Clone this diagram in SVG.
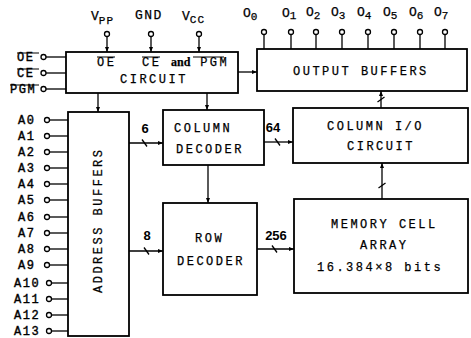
<svg xmlns="http://www.w3.org/2000/svg" width="471" height="338" viewBox="0 0 471 338">
<style>
.box{fill:#fff;stroke:#000;stroke-width:1.8}
.ln{fill:none;stroke:#000;stroke-width:1.3}
.pin{fill:#fff;stroke:#000;stroke-width:1.3}
.t{font-family:"Liberation Mono",monospace;font-size:12px;letter-spacing:2.5px;fill:#000;stroke:#000;stroke-width:0.25}
.p{font-family:"Liberation Mono",monospace;font-size:12px;letter-spacing:1.5px;fill:#000;stroke:#000;stroke-width:0.4}
.s{font-family:"Liberation Mono",monospace;font-size:13px;fill:#000;stroke:#000;stroke-width:0.25}
.n{font-family:"Liberation Sans",Arial,sans-serif;font-size:13px;fill:#000;font-weight:bold}
.ov{stroke:#000;stroke-width:1}
</style>
<defs>
<marker id="ah" markerWidth="5" markerHeight="4" refX="5" refY="2" orient="auto" markerUnits="userSpaceOnUse"><path d="M0,0 L5,2 L0,4 z" fill="#000"/></marker>
</defs>
<rect width="471" height="338" fill="#fff"/>

<g id="connectors">
  <line class="ln" x1="107" y1="36.5" x2="107" y2="52" marker-end="url(#ah)"/>
  <line class="ln" x1="151" y1="36.5" x2="151" y2="52" marker-end="url(#ah)"/>
  <line class="ln" x1="199" y1="36.5" x2="199" y2="52" marker-end="url(#ah)"/>
  <line class="ln" x1="46" y1="57" x2="66" y2="57"/>
  <line class="ln" x1="46" y1="73" x2="66" y2="73"/>
  <line class="ln" x1="46" y1="89" x2="66" y2="89"/>
  <line class="ln" x1="264" y1="34.5" x2="264" y2="49"/>
  <line class="ln" x1="291" y1="34.5" x2="291" y2="49"/>
  <line class="ln" x1="316" y1="34.5" x2="316" y2="49"/>
  <line class="ln" x1="342" y1="34.5" x2="342" y2="49"/>
  <line class="ln" x1="368" y1="34.5" x2="368" y2="49"/>
  <line class="ln" x1="394" y1="34.5" x2="394" y2="49"/>
  <line class="ln" x1="420" y1="34.5" x2="420" y2="49"/>
  <line class="ln" x1="445" y1="34.5" x2="445" y2="49"/>
  <g class="ln">
    <line x1="49.5" y1="120" x2="68" y2="120"/>
    <line x1="49.5" y1="136" x2="68" y2="136"/>
    <line x1="49.5" y1="152" x2="68" y2="152"/>
    <line x1="49.5" y1="168" x2="68" y2="168"/>
    <line x1="49.5" y1="184" x2="68" y2="184"/>
    <line x1="49.5" y1="200" x2="68" y2="200"/>
    <line x1="49.5" y1="217" x2="68" y2="217"/>
    <line x1="49.5" y1="233" x2="68" y2="233"/>
    <line x1="49.5" y1="249" x2="68" y2="249"/>
    <line x1="49.5" y1="265" x2="68" y2="265"/>
    <line x1="51.5" y1="283" x2="68" y2="283"/>
    <line x1="51.5" y1="299" x2="68" y2="299"/>
    <line x1="51.5" y1="315" x2="68" y2="315"/>
    <line x1="51.5" y1="331" x2="68" y2="331"/>
  </g>
  <line class="ln" x1="238" y1="72" x2="257" y2="72" marker-end="url(#ah)"/>
  <line class="ln" x1="98" y1="93" x2="98" y2="112" marker-end="url(#ah)"/>
  <line class="ln" x1="207" y1="93" x2="207" y2="110" marker-end="url(#ah)"/>
  <line class="ln" x1="129" y1="143" x2="163" y2="143" marker-end="url(#ah)"/>
  <line class="ln" x1="142" y1="139.5" x2="147" y2="146.5"/>
  <line class="ln" x1="129" y1="251" x2="163" y2="251" marker-end="url(#ah)"/>
  <line class="ln" x1="144" y1="247.5" x2="149" y2="254.5"/>
  <line class="ln" x1="264" y1="142" x2="293" y2="142" marker-end="url(#ah)"/>
  <line class="ln" x1="275" y1="138.5" x2="280" y2="145.5"/>
  <line class="ln" x1="208" y1="165" x2="208" y2="203" marker-end="url(#ah)"/>
  <line class="ln" x1="257" y1="249" x2="294" y2="249" marker-end="url(#ah)"/>
  <line class="ln" x1="272" y1="245.5" x2="277" y2="252.5"/>
  <line class="ln" x1="381" y1="108" x2="381" y2="91" marker-end="url(#ah)"/>
  <line class="ln" x1="377.5" y1="102" x2="384.5" y2="97"/>
  <line class="ln" x1="382" y1="199" x2="382" y2="163" marker-end="url(#ah)"/>
  <line class="ln" x1="378.5" y1="188" x2="385.5" y2="183"/>
</g>

<g id="power-pins">
  <circle class="pin" cx="107" cy="34" r="2.5"/>
  <circle class="pin" cx="151" cy="34" r="2.5"/>
  <circle class="pin" cx="199" cy="34" r="2.5"/>
  <text class="s" x="91" y="20">V<tspan font-size="11" dy="4" letter-spacing="1">PP</tspan></text>
  <text class="s" x="135" y="19" letter-spacing="1.5">GND</text>
  <text class="s" x="182" y="20">V<tspan font-size="11" dy="3" letter-spacing="1">CC</tspan></text>
</g>

<g id="control-pins">
  <circle class="pin" cx="43.5" cy="57" r="2.5"/>
  <circle class="pin" cx="43.5" cy="73" r="2.5"/>
  <circle class="pin" cx="43.5" cy="89" r="2.5"/>
  <text class="p" x="17" y="61">OE</text>
  <line class="ov" x1="17" y1="53" x2="39" y2="53"/>
  <text class="p" x="17" y="77">CE</text>
  <line class="ov" x1="17" y1="69" x2="39" y2="69"/>
  <text class="p" x="10" y="93" letter-spacing="0.5">PGM</text>
  <line class="ov" x1="10" y1="85" x2="39" y2="85"/>
</g>

<g id="output-pins">
  <circle class="pin" cx="264" cy="32" r="2.5"/>
  <circle class="pin" cx="291" cy="32" r="2.5"/>
  <circle class="pin" cx="316" cy="32" r="2.5"/>
  <circle class="pin" cx="342" cy="32" r="2.5"/>
  <circle class="pin" cx="368" cy="32" r="2.5"/>
  <circle class="pin" cx="394" cy="32" r="2.5"/>
  <circle class="pin" cx="420" cy="32" r="2.5"/>
  <circle class="pin" cx="445" cy="32" r="2.5"/>
  <text class="s" x="243" y="17">O<tspan font-size="11" dy="3">0</tspan></text>
  <text class="s" x="282" y="17">O<tspan font-size="11" dy="2">1</tspan></text>
  <text class="s" x="306" y="16">O<tspan font-size="11" dy="3">2</tspan></text>
  <text class="s" x="331" y="16">O<tspan font-size="11" dy="3">3</tspan></text>
  <text class="s" x="357" y="16">O<tspan font-size="11" dy="3">4</tspan></text>
  <text class="s" x="383" y="16">O<tspan font-size="11" dy="3">5</tspan></text>
  <text class="s" x="409" y="16">O<tspan font-size="11" dy="3">6</tspan></text>
  <text class="s" x="434" y="16">O<tspan font-size="11" dy="3">7</tspan></text>
</g>

<g id="address-pins">
  <g class="pin">
    <circle cx="47" cy="120" r="2.5"/>
    <circle cx="47" cy="136" r="2.5"/>
    <circle cx="47" cy="152" r="2.5"/>
    <circle cx="47" cy="168" r="2.5"/>
    <circle cx="47" cy="184" r="2.5"/>
    <circle cx="47" cy="200" r="2.5"/>
    <circle cx="47" cy="217" r="2.5"/>
    <circle cx="47" cy="233" r="2.5"/>
    <circle cx="47" cy="249" r="2.5"/>
    <circle cx="47" cy="265" r="2.5"/>
    <circle cx="49" cy="283" r="2.5"/>
    <circle cx="49" cy="299" r="2.5"/>
    <circle cx="49" cy="315" r="2.5"/>
    <circle cx="49" cy="331" r="2.5"/>
  </g>
  <text class="p" x="18" y="124">A0</text>
  <text class="p" x="18" y="140">A1</text>
  <text class="p" x="18" y="156">A2</text>
  <text class="p" x="18" y="172">A3</text>
  <text class="p" x="18" y="188">A4</text>
  <text class="p" x="18" y="204">A5</text>
  <text class="p" x="18" y="221">A6</text>
  <text class="p" x="18" y="237">A7</text>
  <text class="p" x="18" y="253">A8</text>
  <text class="p" x="18" y="269">A9</text>
  <text class="p" x="14" y="287">A10</text>
  <text class="p" x="14" y="303">A11</text>
  <text class="p" x="14" y="319">A12</text>
  <text class="p" x="14" y="335">A13</text>
</g>

<g id="control-circuit">
  <rect class="box" x="66" y="52" width="172" height="41"/>
  <text class="t" x="97" y="66">OE</text>
  <line class="ov" x1="97" y1="57" x2="115" y2="57"/>
  <text class="t" x="142" y="66">CE <tspan font-family="Liberation Serif,serif" font-weight="bold" letter-spacing="0">and</tspan> PGM</text>
  <line class="ov" x1="142" y1="57" x2="160" y2="57"/>
  <line class="ov" x1="193" y1="57" x2="224" y2="57"/>
  <text class="t" x="120" y="83">CIRCUIT</text>
</g>

<g id="output-buffers">
  <rect class="box" x="257" y="49" width="210" height="42"/>
  <text class="t" x="293" y="75">OUTPUT BUFFERS</text>
</g>

<g id="address-buffers">
  <rect class="box" x="68" y="112" width="61" height="224"/>
  <text class="t" transform="translate(102,293) rotate(-90)">ADDRESS BUFFERS</text>
</g>

<g id="column-decoder">
  <rect class="box" x="163" y="110" width="101" height="55"/>
  <text class="t" x="174" y="132">COLUMN</text>
  <text class="t" x="176" y="153">DECODER</text>
</g>

<g id="column-io">
  <rect class="box" x="293" y="108" width="175" height="55"/>
  <text class="t" x="327" y="130">COLUMN I/O</text>
  <text class="t" x="347" y="150">CIRCUIT</text>
</g>

<g id="row-decoder">
  <rect class="box" x="163" y="203" width="94" height="92"/>
  <text class="t" x="195" y="242">ROW</text>
  <text class="t" x="177" y="265">DECODER</text>
</g>

<g id="memory-array">
  <rect class="box" x="294" y="199" width="174" height="94"/>
  <text class="t" x="331" y="228">MEMORY CELL</text>
  <text class="t" x="360" y="249">ARRAY</text>
  <text class="t" x="317" y="271" letter-spacing="1.8">16.384×8 bits</text>
</g>

<g id="bus-labels">
  <text class="n" x="145" y="133" text-anchor="middle">6</text>
  <text class="n" x="147" y="240" text-anchor="middle">8</text>
  <text class="n" x="273" y="132" text-anchor="middle">64</text>
  <text class="n" x="276" y="240" text-anchor="middle">256</text>
</g>
</svg>
